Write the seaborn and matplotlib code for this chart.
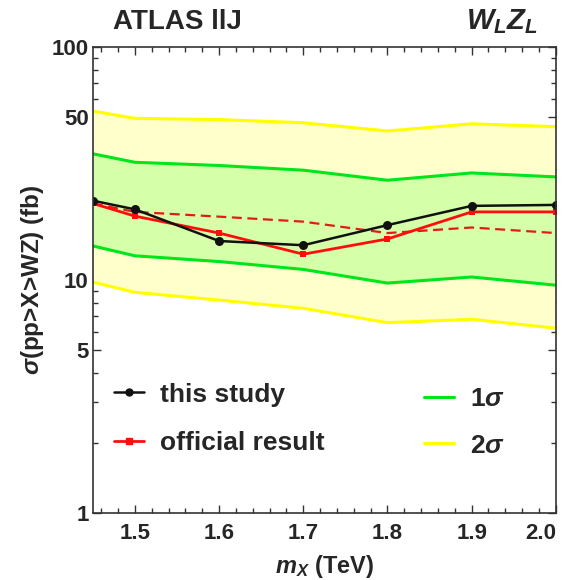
import numpy as np
import pandas as pd
import seaborn as sns
import matplotlib.pyplot as plt
from matplotlib.lines import Line2D
from matplotlib.ticker import MultipleLocator, FixedLocator, NullFormatter

# masses (TeV)
mass = [1.45, 1.5, 1.6, 1.7, 1.8, 1.9, 2.0]
# cross section limits (fb)
this_study = [21.9, 20.1, 14.7, 14.1, 17.2, 20.8, 21.0]
official = [21.3, 18.8, 15.9, 12.9, 15.0, 19.6, 19.6]
expected = [21.3, 19.6, 18.7, 17.8, 15.9, 16.8, 15.9]
band1_lo = [14.0, 12.7, 12.0, 11.1, 9.7, 10.3, 9.5]
band1_hi = [34.8, 32.0, 31.0, 29.6, 26.8, 28.8, 27.7]
band2_lo = [9.8, 8.85, 8.2, 7.56, 6.56, 6.78, 6.21]
band2_hi = [53.1, 49.4, 48.8, 47.3, 43.6, 46.8, 45.5]

xticks = [1.5, 1.6, 1.7, 1.8, 1.9, 2.0]
yticks = [1, 5, 10, 50, 100]

sns.set_style("ticks")
plt.rcParams['font.family'] = ['Liberation Sans', 'DejaVu Sans']
plt.rcParams['font.weight'] = 'bold'
plt.rcParams['mathtext.fontset'] = 'custom'
plt.rcParams['mathtext.it'] = 'Liberation Sans:italic:bold'
plt.rcParams['mathtext.rm'] = 'Liberation Sans:bold'

yellow = '#ffff00'
green = '#00e61a'

fig = plt.figure(figsize=(5.66, 5.80), dpi=100)
ax = fig.add_axes([0.164, 0.1155, 0.818, 0.8035])

ax.fill_between(mass, band2_lo, band2_hi, color='#ffffcc', lw=0)
ax.fill_between(mass, band1_lo, band1_hi, color='#d5ffa8', lw=0)
for band, col in [(band2_lo, yellow), (band2_hi, yellow), (band1_lo, green), (band1_hi, green)]:
    sns.lineplot(x=mass, y=band, color=col, lw=2.2, ax=ax)

sns.lineplot(x=mass, y=expected, color='#e41a1a', lw=1.6, ax=ax, linestyle=(0, (4.5, 2.5)))
sns.lineplot(x=mass, y=official, color='#ff0d0d', lw=2, marker='s', markersize=5,
             markeredgewidth=0, ax=ax)
sns.lineplot(x=mass, y=this_study, color='#111111', lw=1.8, marker='o', markersize=6.5,
             markeredgewidth=0, ax=ax)

ax.set_yscale('log')
ax.set_xlim(1.45, 2.0)
ax.set_ylim(1, 100)
ax.yaxis.set_major_locator(FixedLocator(yticks))
ax.set_yticklabels([str(v) for v in yticks])
minors = [v * d for d in [1, 10] for v in range(2, 10) if v != 5]
ax.yaxis.set_minor_locator(FixedLocator(minors))
ax.yaxis.set_minor_formatter(NullFormatter())
ax.xaxis.set_major_locator(FixedLocator(xticks))
ax.set_xticklabels([f"{v:.1f}" for v in xticks])
ax.xaxis.set_minor_locator(MultipleLocator(0.02))
ax.tick_params(which='both', direction='in', top=True, right=True, width=1, color='#333333')
ax.tick_params(which='major', length=6, labelsize=16)
ax.tick_params(axis='x', which='major', pad=7)
ax.tick_params(axis='y', which='major', pad=3)
ax.tick_params(which='minor', length=3.5)
for s in ax.spines.values():
    s.set_color('#333333')
    s.set_linewidth(1.2)
ax.xaxis.get_major_ticks()[-1].label1.set_horizontalalignment('right')

ax.set_xlabel(r'$m_X$ (TeV)', fontsize=17, fontweight='bold', labelpad=7)
ax.set_ylabel(r'$\sigma$(pp>X>WZ) (fb)', fontsize=17.5, fontweight='bold', labelpad=4)

fig.text(0.2, 0.962, 'ATLAS llJ', fontsize=20, fontweight='bold', va='center', ha='left')
fig.text(0.95, 0.962, r'$W_LZ_L$', fontsize=21, va='center', ha='right')

h1 = [Line2D([], [], color='#111111', lw=1.8, marker='o', markersize=5),
      Line2D([], [], color='#ff0d0d', lw=2, marker='s', markersize=4)]
leg1 = ax.legend(h1, ['this study', 'official result'], loc='upper left',
                 bbox_to_anchor=(0.045, 0.28), frameon=False, fontsize=19,
                 handlelength=1.15, labelspacing=0.92, handletextpad=0.6,
                 borderpad=0, borderaxespad=0)
ax.add_artist(leg1)
h2 = [Line2D([], [], color=green, lw=2.2), Line2D([], [], color=yellow, lw=2.2)]
ax.legend(h2, [r'1$\sigma$', r'2$\sigma$'], loc='upper left',
          bbox_to_anchor=(0.715, 0.27), frameon=False, fontsize=19,
          handlelength=1.15, labelspacing=0.85, handletextpad=0.6,
          borderpad=0, borderaxespad=0)

fig.savefig('out.png', dpi=100)
